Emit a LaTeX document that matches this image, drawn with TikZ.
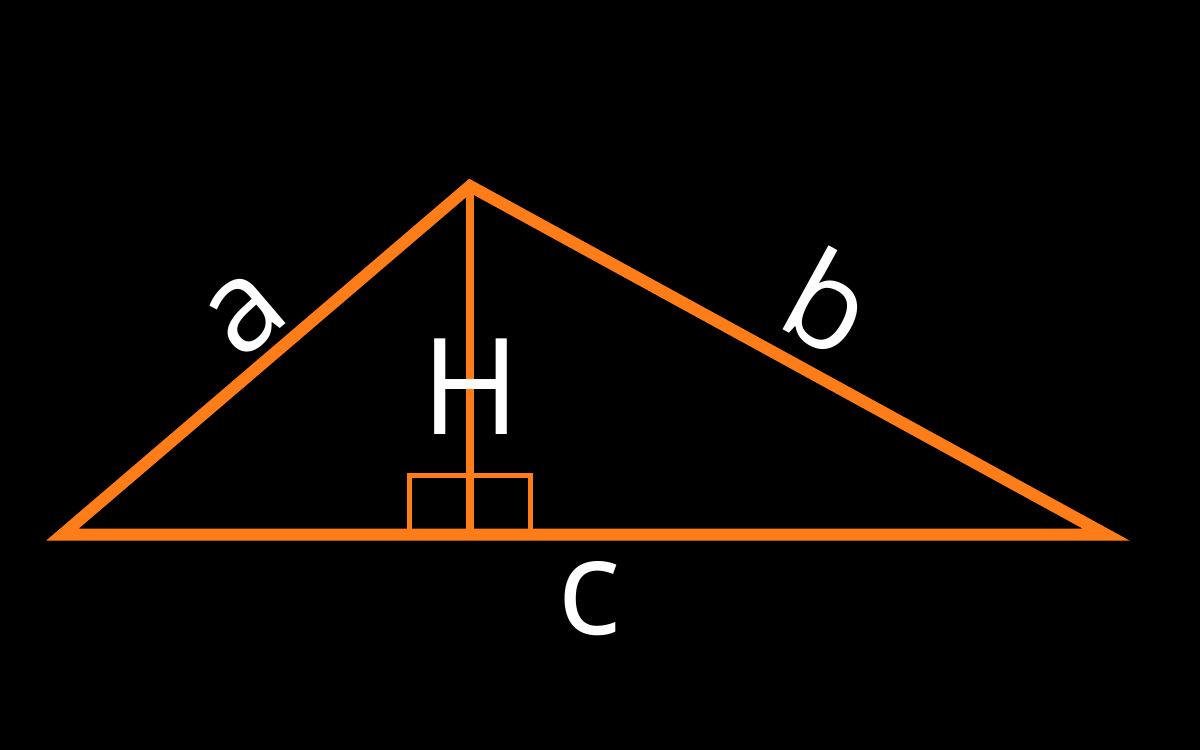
\documentclass[tikz,border=0pt]{standalone}
\usepackage{fontspec}
\setmainfont{Open Sans}
\definecolor{triorange}{RGB}{255,125,25}
\tikzset{
  side/.style={draw=triorange, line width=12pt, line join=miter},
  altline/.style={draw=triorange, line width=8pt},
  rightmark/.style={draw=triorange, line width=5pt, line join=miter},
  lbl/.style={text=white, inner sep=0pt, font=\fontsize{134pt}{150pt}\selectfont},
  slbl/.style={text=white, inner sep=0pt, font=\fontsize{126pt}{140pt}\selectfont}
}
\begin{document}
\begin{tikzpicture}[x=1pt,y=-1pt]
\fill[black] (0,0) rectangle (1200,750);
\useasboundingbox (0,0) rectangle (1200,750);
\coordinate (A) at (62.5,534.5);
\coordinate (B) at (470,186);
\coordinate (C) at (1106,534.5);
\coordinate (F) at (470,534.5);
\coordinate (R1) at (409.5,534.5);
\coordinate (R2) at (530.5,475.5);
\coordinate (R3) at (530.5,534.5);
\draw[rightmark] (R1) |- (R2) -- (R3);
\draw[altline] (B) -- (F);
\draw[side] (A) -- (B) -- (C) -- cycle;
\node[slbl, rotate=40.5] (la) at (245.5,314) {a};
\node[slbl, rotate=-28.7] (lb) at (830,302) {b};
\node[lbl] (lh) at (470.5,386.5) {H};
\node[lbl] (lc) at (589.5,599) {c};
\end{tikzpicture}
\end{document}
